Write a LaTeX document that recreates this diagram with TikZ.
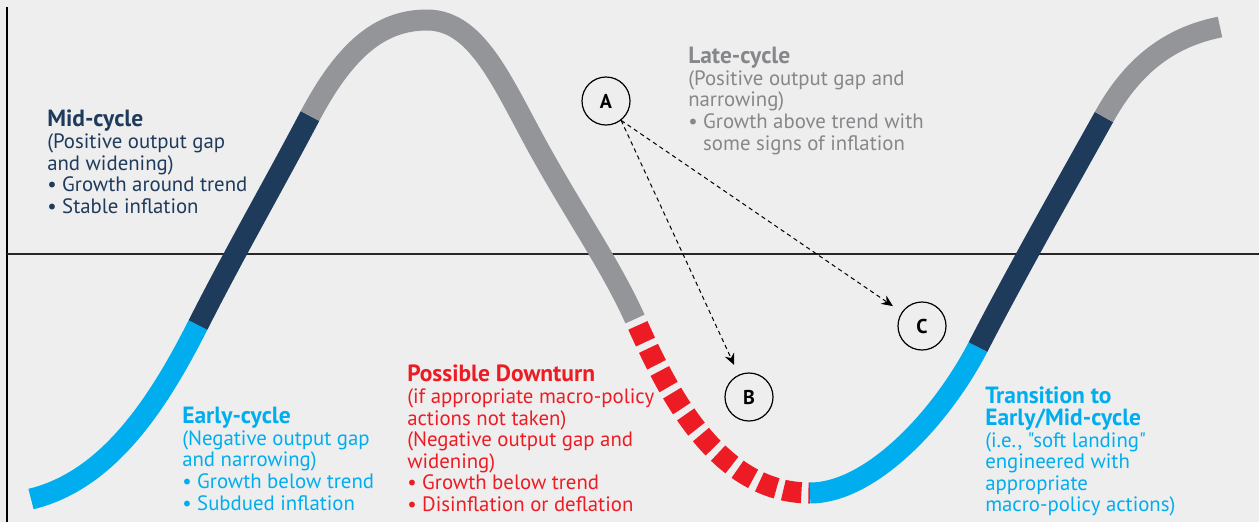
\documentclass[tikz,border=0pt]{standalone}
\usepackage{fontspec}
\setmainfont{PT Sans}[Ligatures=TeXOff]
\usetikzlibrary{arrows.meta}
\definecolor{bgc}{HTML}{EEEEEE}
\definecolor{cgrey}{HTML}{939598}
\definecolor{cnavy}{HTML}{1F3B5C}
\definecolor{ccyan}{HTML}{00AEEF}
\definecolor{cred}{HTML}{ED1C24}
\definecolor{tgrey}{HTML}{86878A}
\newcommand{\hd}[1]{{\fontsize{17.6}{16.2}\selectfont\bfseries #1}}
\begin{document}
\begin{tikzpicture}[x=0.75pt,y=-0.75pt,
  seg/.style={line width=15.75pt, line cap=butt},
  lbl/.style={anchor=north west, inner sep=0pt, align=left, font=\fontsize{15.6}{16.2}\selectfont},
  circ/.style={circle, draw=black, line width=0.9pt, minimum size=36pt, inner sep=0pt, font=\bfseries\fontsize{15}{16}\selectfont},
  darrow/.style={draw=black, line width=0.75pt, dash pattern=on 3.2pt off 2.6pt, -{Stealth[length=8.5pt,width=7.5pt]}, shorten >=8pt}
]
\fill[bgc] (0,0) rectangle (1259,522);
\useasboundingbox (0,0) rectangle (1259,522);
% axes
\draw[line width=1pt, black] (7,7) -- (7,522);
\draw[line width=0.8pt, black!85] (7,254) -- (1259,254);
% curve
\draw[seg, ccyan] (31,499) .. controls (110,480) and (160,400) .. (198,325);
\draw[seg, cnavy] (198,325) .. controls (235,252) and (272,188) .. (310,116);
\draw[seg, cgrey] (310,116) .. controls (345,50) and (380,20) .. (427,20)
   .. controls (480,20) and (505,90) .. (545,160)
   .. controls (580,222) and (612,268) .. (635,319);
\draw[seg, cred, dash pattern=on 13.72pt off 5.25pt, dash phase=13.72pt] (635,319) .. controls (665,386) and (715,493) .. (810,493);
\draw[seg, ccyan] (810,493) .. controls (870,493) and (940,420) .. (978,347);
\draw[seg, cnavy] (978,347) .. controls (1015,275) and (1070,178) .. (1104,117);
\draw[seg, cgrey] (1104,117) .. controls (1130,70) and (1165,38) .. (1220,27);
% labels
\node[lbl, text=cnavy] (mid) at (47,110) {\hd{Mid-cycle}\\(Positive output gap\\and widening)\\• Growth around trend\\• Stable inflation};
\node[lbl, text=tgrey] (late) at (688,47) {\hd{Late-cycle}\\(Positive output gap and\\narrowing)\\• Growth above trend with\\\hphantom{• }some signs of inflation};
\node[lbl, text=ccyan] (early) at (182,407) {\hd{Early-cycle}\\(Negative output gap\\and narrowing)\\• Growth below trend\\• Subdued inflation};
\node[lbl, text=cred] (down) at (407,365) {\hd{Possible Downturn}\\(if appropriate macro-policy\\actions not taken)\\(Negative output gap and\\widening)\\• Growth below trend\\• Disinflation or deflation};
\node[lbl, text=ccyan] (trans) at (985,387) {\hd{Transition to}\\\hd{Early/Mid-cycle}\\(i.e., "soft landing"\\engineered with\\appropriate\\macro-policy actions)};
% circles
\node[circ] (A) at (606,101) {A};
\node[circ] (B) at (749,397) {B};
\node[circ] (C) at (922,326) {C};
\draw[darrow] (A.-52) -- (B);
\draw[darrow] (A.-52) -- (C);
\end{tikzpicture}
\end{document}
